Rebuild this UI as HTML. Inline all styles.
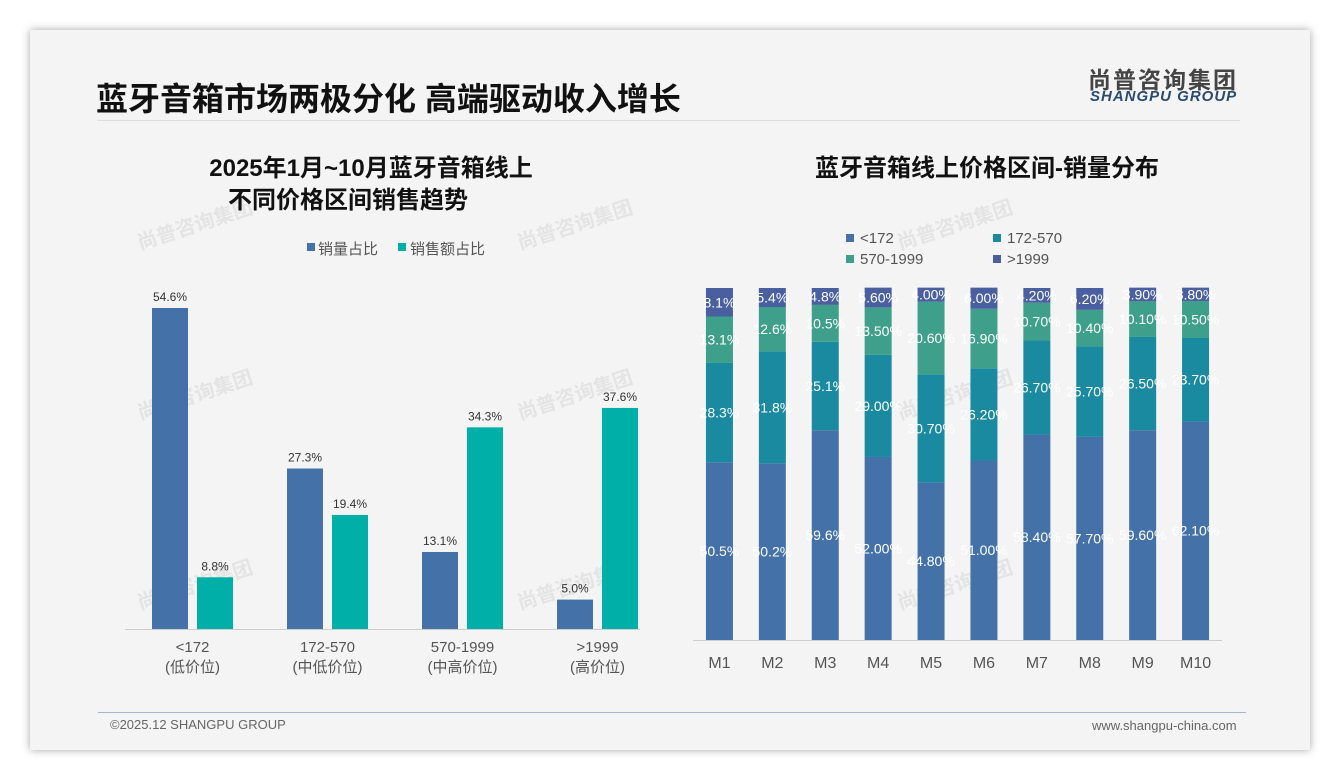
<!DOCTYPE html>
<html><head><meta charset="utf-8">
<style>
body{margin:0;width:1340px;height:780px;background:#fff;font-family:"Liberation Sans","Noto Sans CJK SC",sans-serif;overflow:hidden}
#card{position:absolute;left:30px;top:30px;width:1280px;height:720px;background:#f4f4f4;box-shadow:0 0 8px rgba(0,0,0,0.35)}
.abs{position:absolute}
svg text{font-family:"Liberation Sans","Noto Sans CJK SC",sans-serif}
</style></head><body>
<div id="card">
<div class="abs" style="left:66px;top:44px;font-size:32px;font-weight:bold;color:#111">蓝牙音箱市场两极分化 高端驱动收入增长</div>
<div class="abs" style="left:1058px;top:31px;font-size:23px;font-weight:bold;color:#444;letter-spacing:2px">尚普咨询集团</div>
<div class="abs" style="left:1060px;top:58px;font-size:15px;font-weight:bold;font-style:italic;color:#2a4a6e;letter-spacing:1px">SHANGPU GROUP</div>
<div class="abs" style="left:68px;top:90px;width:1142px;height:1px;background:#ddd"></div>
<div class="abs" style="left:68px;top:682px;width:1148px;height:1px;background:#9fb8d6"></div>
<div class="abs" style="left:80px;top:687px;font-size:13px;color:#666">©2025.12 SHANGPU GROUP</div>
<div class="abs" style="left:1062px;top:688px;font-size:13px;color:#666">www.shangpu-china.com</div>
</div>
<svg id="chart" class="abs" style="left:0;top:0" width="1340" height="780"></svg>
<script>
const leftCats=["<172","172-570","570-1999",">1999"];
const leftSub=["(低价位)","(中低价位)","(中高价位)","(高价位)"];
const volShare=[54.6,27.3,13.1,5.0];
const revShare=[8.8,19.4,34.3,37.6];
const months=["M1","M2","M3","M4","M5","M6","M7","M8","M9","M10"];
const s1=[50.5,50.2,59.6,52.0,44.8,51.0,58.4,57.7,59.6,62.1];
const s2=[28.3,31.8,25.1,29.0,30.7,26.2,26.7,25.7,26.5,23.7];
const s3=[13.1,12.6,10.5,13.5,20.6,16.9,10.7,10.4,10.1,10.5];
const s4=[8.1,5.4,4.8,5.6,4.0,6.0,4.2,6.2,3.9,3.8];
const s1L=["50.5%","50.2%","59.6%","52.00%","44.80%","51.00%","58.40%","57.70%","59.60%","62.10%"];
const s2L=["28.3%","31.8%","25.1%","29.00%","30.70%","26.20%","26.70%","25.70%","26.50%","23.70%"];
const s3L=["13.1%","12.6%","10.5%","13.50%","20.60%","16.90%","10.70%","10.40%","10.10%","10.50%"];
const s4L=["8.1%","5.4%","4.8%","5.60%","4.00%","6.00%","4.20%","6.20%","3.90%","3.80%"];
const seriesNames=["<172","172-570","570-1999",">1999"];

const svg=document.getElementById('chart');
const NS="http://www.w3.org/2000/svg";
function mk(tag,attrs,text){const e=document.createElementNS(NS,tag);for(const k in attrs)e.setAttribute(k,attrs[k]);if(text!==undefined)e.textContent=text;svg.appendChild(e);return e;}

[[140,250],[140,420],[140,610],[520,250],[520,420],[520,610],[900,250],[900,420],[900,610]].forEach(p=>{
 const t=mk('text',{x:p[0],y:p[1],'font-size':20,'font-weight':'bold',fill:'#e4e4e4',transform:`rotate(-18 ${p[0]} ${p[1]})`},'尚普咨询集团');
 
 
});

let t=mk('text',{x:371,y:176,'font-size':24,'font-weight':'bold','text-anchor':'middle',fill:'#111'},'2025年1月~10月蓝牙音箱线上');


t=mk('text',{x:348,y:208,'font-size':24,'font-weight':'bold','text-anchor':'middle',fill:'#111'},'不同价格区间销售趋势');


const cBlue="#4472a8",cTeal="#00b0a8";
let e=mk('rect',{x:307,y:243,width:8,height:8,fill:cBlue});


e=mk('text',{x:318,y:254,'font-size':15,fill:'#555'},'销量占比');


e=mk('rect',{x:398,y:243,width:8,height:8,fill:cTeal});


e=mk('text',{x:410,y:254,'font-size':15,fill:'#555'},'销售额占比');



const lBase=629,lScale=321/54.6;
const ly=v=>lBase-v*lScale;
const lx=i=>192.5+135*i;
e=mk('line',{x1:125,x2:640,y1:lBase+0.5,y2:lBase+0.5,stroke:'#ccc'});


leftCats.forEach((c,i)=>{
 const cx=lx(i);
 let r=mk('rect',{x:cx-40.5,y:ly(volShare[i]),width:36,height:lBase-ly(volShare[i]),fill:cBlue});
 
 
 let l=mk('text',{x:cx-22.5,y:ly(volShare[i])-7,'font-size':12,'text-anchor':'middle',fill:'#333'},volShare[i].toFixed(1)+'%');
 
 
 r=mk('rect',{x:cx+4.5,y:ly(revShare[i]),width:36,height:lBase-ly(revShare[i]),fill:cTeal});
 
 
 l=mk('text',{x:cx+22.5,y:ly(revShare[i])-7,'font-size':12,'text-anchor':'middle',fill:'#333'},revShare[i].toFixed(1)+'%');
 
 
 l=mk('text',{x:cx,y:652,'font-size':15,'text-anchor':'middle',fill:'#555'},c);
 
 
 l=mk('text',{x:cx,y:672,'font-size':15,'text-anchor':'middle',fill:'#555'},leftSub[i]);
 
 
});

t=mk('text',{x:987,y:176,'font-size':24,'font-weight':'bold','text-anchor':'middle',fill:'#111'},'蓝牙音箱线上价格区间-销量分布');


const sc=["#4472a8","#1a8aa0","#3ea08a","#4a5fa0"];
const legPos=[[846,242],[993,242],[846,263],[993,263]];
seriesNames.forEach((n,i)=>{
 let s=mk('rect',{x:legPos[i][0],y:legPos[i][1]-8,width:8,height:8,fill:sc[i]});
 
 
 s=mk('text',{x:legPos[i][0]+14,y:legPos[i][1]+1,'font-size':15,fill:'#555'},n);
 
 
});
const rBase=640,rScale=352/100,rX0=693,rW=(1222-693)/10;
const rx=i=>rX0+rW*(i+0.5);
const series=[s1,s2,s3,s4],labels=[s1L,s2L,s3L,s4L];
months.forEach((m,i)=>{
 let acc=0;
 series.forEach((s,k)=>{
  const y0=rBase-acc*rScale,h=s[i]*rScale;
  const r=mk('rect',{x:rx(i)-13.5,y:y0-h,width:27,height:h,fill:sc[k]});
  
  
  const l=mk('text',{x:rx(i),y:y0-h/2+5,'font-size':14,'text-anchor':'middle',fill:'#fff'},labels[k][i]);
  
  
  acc+=s[i];
 });
 const l=mk('text',{x:rx(i),y:668,'font-size':16,'text-anchor':'middle',fill:'#555'},m);
 
 
});
e=mk('line',{x1:693,x2:1222,y1:rBase+0.5,y2:rBase+0.5,stroke:'#ccc'});


</script>
</body></html>
